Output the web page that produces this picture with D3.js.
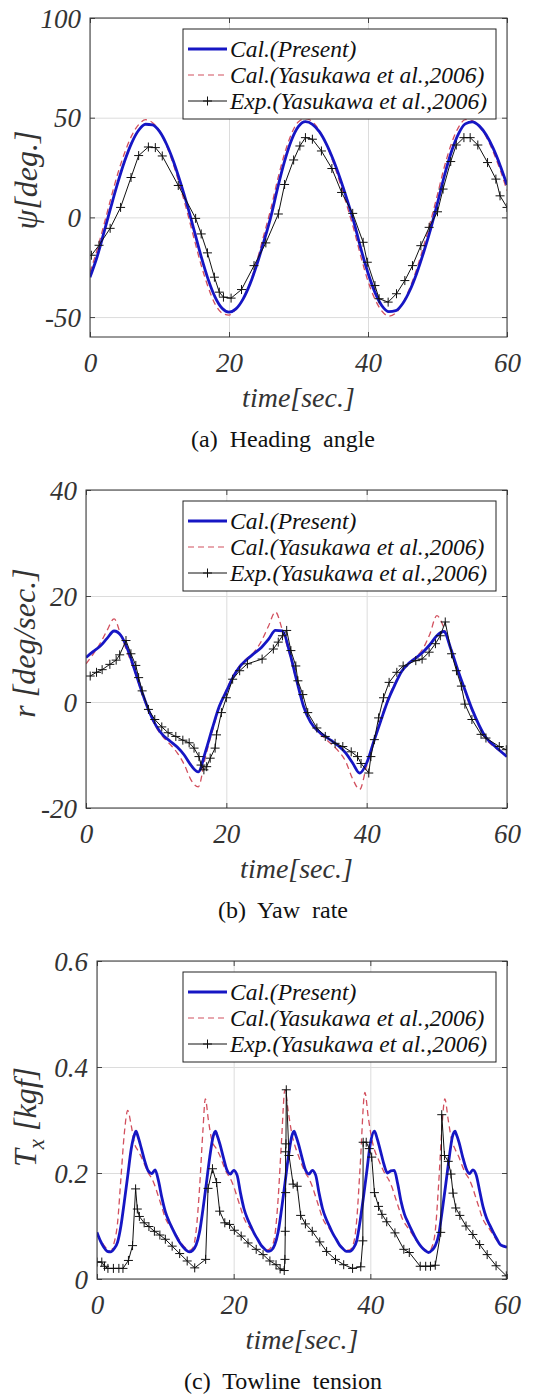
<!DOCTYPE html>
<html><head><meta charset="utf-8">
<script src="https://cdn.jsdelivr.net/npm/d3@7"></script>
<style>body{margin:0;background:#fff} svg{display:block}</style>
</head><body>
<svg id="chart" width="536" height="1396"></svg>
<script>
// ---------------- DATA ----------------
const secs = [0,1,2,3,4,5,6,7,8,9,10,11,12,13,14,15,16,17,18,19,20,21,22,23,24,25,26,27,28,29,30,31,32,33,34,35,36,37,38,39,40,41,42,43,44,45,46,47,48,49,50,51,52,53,54,55,56,57,58,59,60];

// (a) heading angle [deg]
const headingPresent = [-30,-20,-7.7,5.1,17.4,28.4,37.4,43.7,46.7,46.4,43.1,36.8,28.2,17.7,6,-6.8,-19.7,-31.1,-40,-45.6,-47.5,-45.9,-41.1,-33.6,-23.8,-12.3,0,14.8,28.2,38.8,45.6,48,46.7,43,36.9,28.9,19.4,8.8,-2.7,-16,-27.9,-37.6,-44.3,-47.3,-46.8,-43.2,-36.8,-28.1,-17.6,-6,7.2,21,32.9,41.8,46.9,47.9,45.9,41.4,34.7,26.2,16.3];
const headingYasukawa = [-27.5,-16.5,-3.8,9.5,22,32.5,41,46.5,49,47.5,43.5,36,26.5,15,2.5,-11,-24,-35,-43.5,-48,-49,-46,-41,-33,-22,-9,4,19,32,42,48,49.5,48,43.5,36.5,27.5,17,5.5,-6.5,-20,-32,-41,-47,-49.5,-48,-43,-35.5,-26,-14.5,-2,11.5,25.5,37,45,49,48.5,45.5,40.5,33,24,13.5];
const headingExpT = [0.2,1.3,2.9,4.4,5.9,7.0,8.4,9.4,10.4,12.7,15.2,16.0,16.9,17.9,18.6,19.2,20.3,21.8,23.6,25.3,27.1,28.0,29.3,30.2,31.0,32.0,33.3,34.8,36.2,37.8,39.3,39.9,41.0,41.6,42.9,44.1,45.3,46.4,47.6,48.8,50.0,50.8,51.9,52.7,53.8,54.7,55.8,57.2,58.4,59.0,60];
const headingExpV = [-19,-14,-5.5,5,20,31,35.3,35,30.8,16,-0.5,-8.3,-17.8,-30,-37.5,-40,-40.5,-36.2,-24.2,-12.8,1.7,16.5,28.8,35.8,40,39.2,33.3,24.5,12.5,2,-12.5,-22.5,-34.2,-40.8,-42.5,-38.3,-31.7,-24.2,-14.2,-5,2.8,14.2,28,36.3,40,40,36.3,27.5,19.2,10.8,5];

// (b) yaw rate [deg/sec]
const yawPresent = [8.4,9.5,10.5,12,13.4,12.5,9.7,5.8,1.8,-1.8,-4.5,-6.3,-7.4,-8.5,-10,-12,-13.2,-9.5,-5,-0.8,2,4.8,6.8,8.1,9.2,10.3,11.8,13.5,13.4,9.5,4.2,-0.8,-3.8,-5.4,-6.4,-7.3,-8.3,-9.6,-11.5,-13.4,-11.5,-7.5,-3.6,0.2,3.2,5.8,7.3,8.3,9.4,10.8,12.5,13.3,10,6,2.3,-1.3,-4.3,-6.7,-8,-9.2,-10.3];
const yawYasukawa = [7.2,9,11,13.5,15.7,12.5,9,5.5,1.5,-2,-4.8,-6.6,-8,-9.6,-11.8,-14.8,-16,-10.5,-5.5,-1,2.3,5,7,8.3,9.5,11.5,14.3,17,13.5,9,4,-0.5,-3.8,-5.6,-6.8,-8,-9.3,-11.2,-14.5,-16.5,-12,-7.5,-3.2,0.5,3.5,5.8,7.3,8.5,10,12.8,16.3,14,9.8,5.8,2,-1.6,-4.6,-7,-8.3,-9.3,-10.3];
const yawExpT = [0.6,1.5,2.3,3.4,4.3,4.8,5.7,6.4,7.1,7.5,8.0,8.9,9.8,10.8,11.7,12.8,13.8,14.7,15.4,16.1,16.4,16.8,17.2,17.7,18.4,18.6,19.3,20.0,20.9,21.9,23.0,25.1,26.7,27.4,28.0,28.6,29.2,29.9,30.2,30.9,31.6,32.9,34.1,35.5,36.6,37.8,38.7,39.2,40.3,40.6,41.1,41.7,42.4,43.2,44.3,45.2,47.0,47.9,48.9,49.8,50.5,51.2,52.1,52.8,53.5,54.0,55.0,56.3,57.0,58.9,59.9];
const yawExpV = [4.9,5.6,6.1,7.1,7.9,8.9,11.6,9.1,6.9,4.6,2.1,-1.4,-3.3,-4.7,-5.8,-6.5,-7.2,-7.7,-8.7,-10.3,-11.9,-12.8,-12.2,-10.6,-8.7,-6.2,-2,0.8,4.3,5.9,7.2,8.1,10,11.3,12.5,13.5,9.7,6.8,4,1.4,-2,-4.9,-6.5,-7.8,-8.4,-9.4,-10.3,-11.6,-13.4,-10.3,-7.1,-3,0.8,3.7,5.6,6.8,7.8,8.1,9.4,11,12.5,15.1,9.1,5.9,3,-0.4,-3.3,-6.1,-6.8,-8.4,-9];

// (c) towline tension [kgf]
const tensionPresentT = [0,0.5,1,1.5,2,2.5,3,3.5,4,4.5,5,5.5,5.7,6,6.5,7,7.5,8,8.5,9,9.5,10,10.5,11,11.5,12,12.5,13,13.5,14,14.5,15,15.5,16,16.5,17,17.35,17.5,18,18.5,19,19.5,20,20.5,21,21.5,22,22.5,23,23.5,24,24.5,25,25.5,26,26.5,27,27.5,28,28.5,28.85,29,29.5,30,30.5,31,31.5,32,32.5,33,33.5,34,34.5,35,35.5,36,36.5,37,37.5,38,38.5,39,39.5,40,40.6,41,41.5,42,42.5,43,43.5,44,44.5,45,45.5,46,46.5,47,47.5,48,48.5,49,49.5,50,50.5,51,51.5,52,52.4,52.5,53,53.5,54,54.5,55,55.5,56,56.5,57,57.5,58,58.5,59,59.5,60];
const tensionPresentV = [0.088,0.072,0.06,0.052,0.051,0.057,0.069,0.1,0.146,0.195,0.245,0.273,0.279,0.269,0.246,0.222,0.204,0.199,0.206,0.185,0.153,0.127,0.11,0.096,0.083,0.071,0.062,0.055,0.051,0.054,0.064,0.088,0.131,0.18,0.23,0.269,0.279,0.274,0.254,0.229,0.206,0.198,0.205,0.196,0.162,0.133,0.114,0.1,0.086,0.075,0.064,0.057,0.052,0.054,0.064,0.088,0.131,0.18,0.23,0.269,0.279,0.274,0.254,0.229,0.206,0.198,0.205,0.196,0.162,0.133,0.114,0.1,0.086,0.075,0.064,0.057,0.052,0.052,0.058,0.072,0.109,0.155,0.205,0.255,0.279,0.265,0.241,0.216,0.2,0.204,0.205,0.18,0.146,0.122,0.107,0.093,0.08,0.069,0.06,0.054,0.05,0.054,0.063,0.083,0.127,0.175,0.225,0.268,0.279,0.276,0.257,0.231,0.209,0.199,0.206,0.196,0.166,0.136,0.115,0.101,0.088,0.076,0.065,0.062,0.06];
const tensionYasukawaT = [0,0.5,1,1.5,2,2.5,3,3.5,4,4.5,5,5.5,6,6.5,7,7.5,8,8.5,9,9.5,10,10.5,11,11.5,12,12.5,13,13.5,14,14.5,15,15.5,15.85,16.3,16.8,17.5,18,18.5,19,19.5,20,20.5,21,21.5,22,22.5,23,23.5,24,24.5,25,25.5,26,26.5,27,27.5,28,28.5,29,29.5,30,30.5,31,31.5,32,32.5,33,33.5,34,34.5,35,35.5,36,36.5,37,37.5,38,38.5,39.2,39.7,40.2,40.7,41.2,41.7,42.2,42.7,43.2,43.7,44.2,44.7,45.2,45.7,46.2,46.7,47.2,47.7,48.2,48.6,49,49.5,50,50.5,50.9,51.4,51.9,52.4,52.9,53.4,53.9,54.4,54.9,55.4,55.9,56.4,56.9,57.4,57.9,58.4,58.9,59.4,60];
const tensionYasukawaV = [0.083,0.073,0.064,0.056,0.052,0.068,0.105,0.19,0.275,0.318,0.29,0.255,0.242,0.23,0.215,0.2,0.19,0.175,0.155,0.135,0.115,0.103,0.095,0.085,0.075,0.065,0.058,0.054,0.058,0.09,0.17,0.28,0.34,0.3,0.262,0.245,0.232,0.215,0.2,0.19,0.175,0.155,0.135,0.115,0.103,0.095,0.085,0.075,0.065,0.058,0.055,0.06,0.08,0.15,0.26,0.357,0.315,0.275,0.25,0.232,0.215,0.2,0.19,0.175,0.155,0.135,0.115,0.103,0.095,0.085,0.075,0.065,0.058,0.054,0.055,0.065,0.11,0.21,0.352,0.305,0.265,0.24,0.225,0.21,0.197,0.187,0.172,0.152,0.132,0.113,0.102,0.093,0.083,0.073,0.065,0.058,0.054,0.053,0.06,0.09,0.18,0.29,0.34,0.3,0.262,0.245,0.232,0.215,0.2,0.19,0.175,0.155,0.135,0.115,0.103,0.095,0.085,0.075,0.067,0.062,0.058];
const tensionExpT = [0,0.7,1.1,1.6,2.4,3.2,3.8,4.6,5.2,5.65,5.9,6.2,6.9,7.6,8.4,9.2,10.0,11.0,12.1,13.2,14.3,15.9,16.25,16.9,17.5,17.95,18.7,19.4,20.1,21.1,22.1,23.3,24.3,25.3,26.2,26.8,27.4,27.5,27.55,27.6,27.6,27.65,27.7,28.1,28.7,29.3,29.8,30.5,31.5,32.6,33.6,34.9,36.1,37.4,38.6,38.9,38.95,39.4,39.85,40.2,40.6,41.2,41.7,42.4,43.6,44.9,45.7,47.3,48.1,48.8,49.5,50.3,50.45,50.85,51.4,51.8,52.1,52.5,53.1,54.0,55.0,56.0,57.1,58.4,59.9];
const tensionExpV = [0.032,0.032,0.024,0.02,0.02,0.02,0.02,0.035,0.063,0.17,0.132,0.118,0.106,0.099,0.09,0.083,0.075,0.062,0.048,0.034,0.021,0.037,0.171,0.208,0.182,0.128,0.106,0.103,0.092,0.081,0.068,0.056,0.046,0.034,0.027,0.019,0.016,0.037,0.09,0.163,0.24,0.255,0.357,0.233,0.179,0.175,0.12,0.104,0.09,0.07,0.052,0.037,0.027,0.02,0.023,0.072,0.258,0.258,0.246,0.23,0.163,0.137,0.122,0.108,0.087,0.056,0.05,0.024,0.024,0.024,0.026,0.088,0.31,0.233,0.222,0.198,0.162,0.134,0.12,0.1,0.084,0.065,0.046,0.025,0.006];

const timeTicks = [0,20,40,60];
const headingTicks = [-50,0,50,100];
const yawTicks = [-20,0,20,40];
const tensionTicks = [0,0.2,0.4,0.6];
const legendLabels = ["Cal.(Present)","Cal.(Yasukawa et al.,2006)","Exp.(Yasukawa et al.,2006)"];
const captions = ["(a)  Heading  angle","(b)  Yaw  rate","(c)  Towline  tension"];
const xLabel = "time[sec.]";

// ---------------- LAYOUT ----------------
const BLUE = "#1616c4", RED = "#d2505e", BLACK = "#111";
const SERIF = "Liberation Serif";

const panels = [
  {box:{l:90,r:507,t:18,b:337}, yDomain:[-60,100], yTicks:headingTicks, fmt:d=>String(d),
   ylab:{x:37,yc:180,text:"ψ[deg.]"},
   present:{t:secs,v:headingPresent}, yas:{t:secs,v:headingYasukawa}, exp:{t:headingExpT,v:headingExpV}, cap:captions[0]},
  {box:{l:86,r:507,t:490,b:808}, yDomain:[-20,40], yTicks:yawTicks, fmt:d=>String(d),
   ylab:{x:35,yc:643,text:"r [deg/sec.]"},
   present:{t:secs,v:yawPresent}, yas:{t:secs,v:yawYasukawa}, exp:{t:yawExpT,v:yawExpV}, cap:captions[1]},
  {box:{l:97,r:507,t:961,b:1279}, yDomain:[0,0.6], yTicks:tensionTicks, fmt:d=>d===0?"0":d3.format(".1f")(d),
   ylab:{x:36,yc:1117,sub:true},
   present:{t:tensionPresentT,v:tensionPresentV}, yas:{t:tensionYasukawaT,v:tensionYasukawaV}, exp:{t:tensionExpT,v:tensionExpV}, cap:captions[2]}
];

const svg = d3.select("#chart");
svg.append("rect").attr("width",536).attr("height",1396).attr("fill","#fff");

panels.forEach((p,i)=>{
  const {l,r,t,b} = p.box;
  const x = d3.scaleLinear().domain([0,60]).range([l,r]);
  const y = d3.scaleLinear().domain(p.yDomain).range([b,t]);
  const g = svg.append("g");

  // grid
  g.append("g").attr("transform",`translate(0,${b})`)
    .call(d3.axisBottom(x).tickValues(timeTicks).tickSize(-(b-t)).tickFormat(""))
    .call(a=>{a.select(".domain").remove(); a.selectAll("line").attr("stroke","#dcdcdc").attr("stroke-width",1);});
  g.append("g").attr("transform",`translate(${l},0)`)
    .call(d3.axisLeft(y).tickValues(p.yTicks).tickSize(-(r-l)).tickFormat(""))
    .call(a=>{a.select(".domain").remove(); a.selectAll("line").attr("stroke","#dcdcdc").attr("stroke-width",1);});

  // inward ticks on four sides
  const tk = 5;
  [[d3.axisBottom(x).tickValues(timeTicks),`translate(0,${b})`],[d3.axisTop(x).tickValues(timeTicks),`translate(0,${t})`],
   [d3.axisLeft(y).tickValues(p.yTicks),`translate(${l},0)`],[d3.axisRight(y).tickValues(p.yTicks),`translate(${r},0)`]]
   .forEach(([ax,tr])=>{
     g.append("g").attr("transform",tr).call(ax.tickSize(-tk).tickFormat(""))
      .call(a=>{a.select(".domain").remove(); a.selectAll("line").attr("stroke","#444");});
   });

  // tick labels
  g.append("g").attr("transform",`translate(0,${b})`)
    .call(d3.axisBottom(x).tickValues(timeTicks).tickSize(0).tickPadding(0).tickFormat(d=>String(d)))
    .call(a=>{a.select(".domain").remove();
      a.selectAll("text").attr("y",35).attr("dy",null)
       .attr("font-family",SERIF).attr("font-style","italic").attr("font-size",27).attr("fill","#333");});
  g.append("g").attr("transform",`translate(${l},0)`)
    .call(d3.axisLeft(y).tickValues(p.yTicks).tickSize(0).tickPadding(9).tickFormat(p.fmt))
    .call(a=>{a.select(".domain").remove();
      a.selectAll("text").attr("dy",null).attr("y",9)
       .attr("font-family",SERIF).attr("font-style","italic").attr("font-size",27).attr("fill","#333");});

  // clip
  const cid = "clip"+i;
  svg.append("clipPath").attr("id",cid).append("rect").attr("x",l).attr("y",t).attr("width",r-l).attr("height",b-t);
  const plot = g.append("g").attr("clip-path",`url(#${cid})`);

  const mk = s => s.t.map((tt,k)=>[tt,s.v[k]]);
  const smooth = d3.line().x(d=>x(d[0])).y(d=>y(d[1])).curve(d3.curveMonotoneX);
  const lin = d3.line().x(d=>x(d[0])).y(d=>y(d[1]));

  plot.append("path").attr("d",smooth(mk(p.yas))).attr("fill","none").attr("stroke",RED)
    .attr("stroke-width",1.3).attr("stroke-dasharray","6,4");
  plot.append("path").attr("d",smooth(mk(p.present))).attr("fill","none").attr("stroke",BLUE).attr("stroke-width",2.8);
  const ed = mk(p.exp);
  plot.append("path").attr("d",lin(ed)).attr("fill","none").attr("stroke",BLACK).attr("stroke-width",1);
  plot.append("g").selectAll("path").data(ed).join("path")
    .attr("d",d=>`M${x(d[0])-4.5},${y(d[1])}h9M${x(d[0])},${y(d[1])-4.5}v9`)
    .attr("stroke",BLACK).attr("stroke-width",1);

  // box
  g.append("rect").attr("x",l).attr("y",t).attr("width",r-l).attr("height",b-t)
    .attr("fill","none").attr("stroke","#333").attr("stroke-width",1);

  // legend
  const lg = g.append("g");
  const lx = 183, lw = 313, ly = t+11, lh = 90;
  lg.append("rect").attr("x",lx).attr("y",ly).attr("width",lw).attr("height",lh)
    .attr("fill","#fff").attr("stroke","#222").attr("stroke-width",1);
  const rows = [ly+20, ly+46, ly+72];
  lg.append("line").attr("x1",188).attr("x2",227).attr("y1",rows[0]).attr("y2",rows[0]).attr("stroke",BLUE).attr("stroke-width",3);
  lg.append("line").attr("x1",188).attr("x2",227).attr("y1",rows[1]).attr("y2",rows[1]).attr("stroke",RED).attr("stroke-width",1.2).attr("stroke-dasharray","6,4");
  lg.append("line").attr("x1",188).attr("x2",227).attr("y1",rows[2]).attr("y2",rows[2]).attr("stroke",BLACK).attr("stroke-width",1);
  lg.append("path").attr("d",`M203,${rows[2]}h9M207.5,${rows[2]-4.5}v9`).attr("stroke",BLACK).attr("stroke-width",1);
  legendLabels.forEach((s,k)=>{
    lg.append("text").attr("x",230).attr("y",rows[k]+8).text(s)
      .attr("font-family",SERIF).attr("font-style","italic").attr("font-size",23.5).attr("fill","#111");
  });

  // x label
  g.append("text").attr("x",(l+r)/2).attr("y",b+70).attr("text-anchor","middle").text(xLabel)
    .attr("font-family",SERIF).attr("font-style","italic").attr("font-size",28).attr("fill","#333");

  // y label
  const yl = g.append("text").attr("transform",`translate(${p.ylab.x},${p.ylab.yc}) rotate(-90)`)
    .attr("text-anchor","middle").attr("font-family",SERIF).attr("font-style","italic").attr("font-size",32).attr("fill","#333");
  if (p.ylab.sub) {
    yl.append("tspan").text("T");
    yl.append("tspan").attr("dy",8).attr("font-size",23).text("x");
    yl.append("tspan").attr("dy",-8).text(" [kgf]");
  } else {
    yl.text(p.ylab.text);
  }

  // caption
  g.append("text").attr("x",283).attr("y",b+110).attr("text-anchor","middle").text(p.cap)
    .style("white-space","pre").attr("font-family",SERIF).attr("font-size",24).attr("fill","#111");
});
</script>
</body></html>
